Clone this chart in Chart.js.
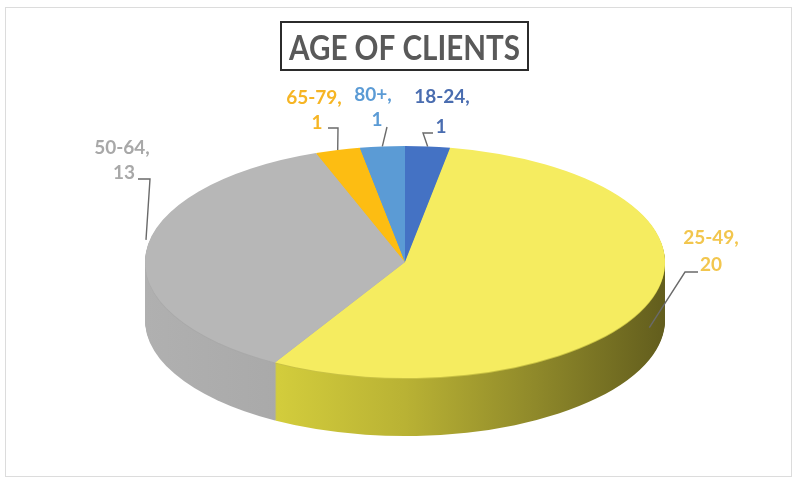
<!DOCTYPE html>
<html><head><meta charset="utf-8">
<script src="https://cdn.jsdelivr.net/npm/chart.js@4"></script>
<style>html,body{margin:0;padding:0;background:#fff}#wrap{width:796px;height:482px;position:relative}canvas{display:block}</style>
</head><body><div id="wrap"><canvas id="c" width="796" height="482"></canvas></div>
<script>
const categories = ['18-24', '25-49', '50-64', '65-79', '80+'];
const clientCounts = [1, 20, 13, 1, 1];
const sliceColors = ['#4472c4', '#f5ec60', '#b7b7b7', '#fdbd12', '#5b9bd5'];
const labelColors = ['#4a6db0', '#f2c64e', '#a8a8a8', '#f6b524', '#5b9bd5'];
const titleText = 'AGE OF CLIENTS';

// 3D geometry (screen pixels)
const GEO = { cx: 405, cy: 262, rx: 260, ry: 116, depth: 58 };

// label layout (screen pixels)
const LABEL_LAYOUT = [
  { l1: [442, 97], l2: [441, 127], s: [433, 133], e: [423, 133], drop: 0 },
  { l1: [711, 238], l2: [711, 265], s: [698, 272], e: [685, 272], drop: 26 },
  { l1: [122, 148], l2: [124, 173], s: [138, 179], e: [150, 179], drop: -12 },
  { l1: [314, 98], l2: [317, 123], s: [328, 128], e: [338, 128], drop: 0 },
  { l1: [373, 95], l2: [377, 120], s: [387, 127], e: [387, 127], drop: 0 }
];

function sideFill(ctx, i, acx, R) {
  const g = ctx.createLinearGradient(acx - R, 0, acx + R, 0);
  if (i === 1) {
    g.addColorStop(0, '#e0dc4a');
    g.addColorStop(0.25, '#d3cd3c');
    g.addColorStop(0.5, '#b9b234');
    g.addColorStop(0.75, '#8f892a');
    g.addColorStop(1, '#625d1d');
  } else if (i === 2) {
    g.addColorStop(0, '#b0b0b0');
    g.addColorStop(0.5, '#a3a3a3');
    g.addColorStop(1, '#9a9a9a');
  } else {
    g.addColorStop(0, sliceColors[i]);
    g.addColorStop(1, sliceColors[i]);
  }
  return g;
}

function drawArcWith(arc, ctx, fill) {
  const o = Object.create(arc.options);
  o.backgroundColor = fill;
  o.borderWidth = 0;
  const proxy = Object.create(arc);
  proxy.options = o;
  arc.draw.call(proxy, ctx);
}

const pie3d = {
  id: 'pie3d',
  beforeDraw(chart) {
    const ctx = chart.ctx;
    ctx.save();
    ctx.fillStyle = '#ffffff';
    ctx.fillRect(0, 0, chart.width, chart.height);
    ctx.strokeStyle = '#dcdcdc';
    ctx.lineWidth = 1;
    ctx.strokeRect(5.5, 7.5, 786, 469);
    ctx.restore();
  },
  beforeDatasetsDraw(chart) {
    const ctx = chart.ctx;
    const arcs = chart.getDatasetMeta(0).data;
    const a0 = arcs[0];
    const acx = a0.x, acy = a0.y, R = a0.outerRadius;
    const sx = GEO.rx / R, sy = GEO.ry / R;
    const apply = (d) => {
      ctx.translate(GEO.cx, GEO.cy + d);
      ctx.scale(sx, sy);
      ctx.translate(-acx, -acy);
    };
    for (let d = GEO.depth; d >= 1; d--) {
      ctx.save();
      apply(d);
      arcs.forEach((arc, i) => drawArcWith(arc, ctx, sideFill(ctx, i, acx, R)));
      ctx.restore();
    }
    ctx.save();
    apply(1);
    arcs.forEach((arc, i) => drawArcWith(arc, ctx, i === 1 ? '#c9c244' : (i === 2 ? '#a9a9a9' : sliceColors[i])));
    ctx.restore();
    ctx.save();
    apply(0);
    arcs.forEach((arc, i) => drawArcWith(arc, ctx, sliceColors[i]));
    ctx.restore();
    return false;
  },
  afterDraw(chart) {
    const ctx = chart.ctx;
    // title
    ctx.save();
    ctx.strokeStyle = '#2b2b2b';
    ctx.lineWidth = 2;
    ctx.strokeRect(281, 22, 247, 48);
    ctx.font = 'bold 35px Lato, "DejaVu Sans", sans-serif';
    const w = ctx.measureText(titleText).width;
    const targetW = 231;
    ctx.translate(404.5, 60);
    ctx.scale(targetW / w, 1);
    ctx.fillStyle = '#595959';
    ctx.textAlign = 'center';
    ctx.textBaseline = 'alphabetic';
    ctx.fillText(titleText, 0, 0);
    ctx.restore();

    // labels
    const arcs = chart.getDatasetMeta(0).data;
    ctx.save();
    ctx.font = 'bold 19px Lato, "DejaVu Sans", sans-serif';
    ctx.textAlign = 'center';
    ctx.textBaseline = 'middle';
    arcs.forEach((arc, i) => {
      const L = LABEL_LAYOUT[i];
      const mid = (arc.startAngle + arc.endAngle) / 2;
      const ex = GEO.cx + GEO.rx * Math.cos(mid);
      const ey = GEO.cy + GEO.ry * Math.sin(mid) + L.drop;
      ctx.strokeStyle = '#6a6a6a';
      ctx.lineWidth = 1.4;
      ctx.beginPath();
      ctx.moveTo(L.s[0], L.s[1]);
      ctx.lineTo(L.e[0], L.e[1]);
      ctx.lineTo(ex, ey);
      ctx.stroke();
      ctx.fillStyle = labelColors[i];
      ctx.fillText(categories[i] + ',', L.l1[0], L.l1[1]);
      ctx.fillText(String(clientCounts[i]), L.l2[0], L.l2[1]);
    });
    ctx.restore();
  }
};

new Chart(document.getElementById('c'), {
  type: 'pie',
  data: {
    labels: categories,
    datasets: [{
      data: clientCounts,
      backgroundColor: sliceColors,
      borderWidth: 0,
      clip: false
    }]
  },
  options: {
    responsive: false,
    animation: false,
    devicePixelRatio: 1,
    layout: { padding: { left: 198, right: 198, top: 41, bottom: 41 } },
    plugins: { legend: { display: false }, tooltip: { enabled: false }, title: { display: false } }
  },
  plugins: [pie3d]
});
</script>
</body></html>
